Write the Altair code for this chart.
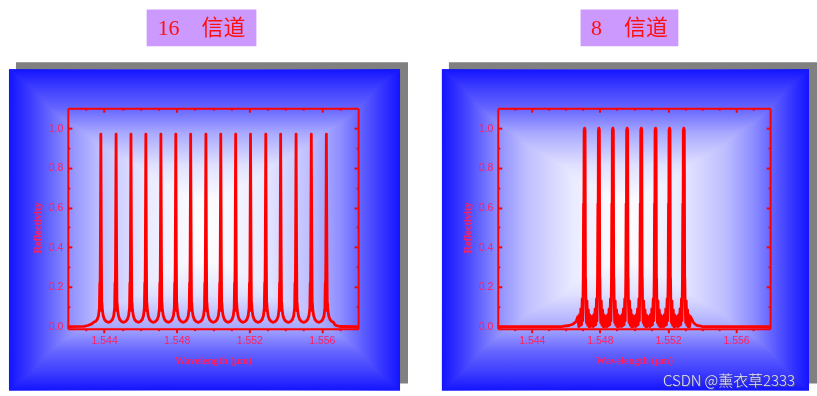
import altair as alt
import pandas as pd

# ---------------- data ----------------
X_DOMAIN = [1.542, 1.558]
Y_DOMAIN = [-0.01, 1.1]
X_MAJOR = [1.544, 1.548, 1.552, 1.556]
X_MINOR = [1.543, 1.545, 1.546, 1.547, 1.549, 1.550, 1.551, 1.553, 1.554, 1.555, 1.557]
Y_MAJOR = [0.0, 0.2, 0.4, 0.6, 0.8, 1.0]
Y_MINOR = [0.1, 0.3, 0.5, 0.7, 0.9]

PANEL_TITLES = ["16\u3000信道", "8\u3000信道"]
X_TITLE = "Wavelength (μm)"
Y_TITLE = "Reflectivity"
WATERMARK = "CSDN @薰衣草2333"

# 16-channel spectrum: peak centres (μm) and one peak profile (offset μm, reflectivity)
CENTERS_16 = [1.54382, 1.54466, 1.54548, 1.54630, 1.54713, 1.54795, 1.54877, 1.54961,
              1.55043, 1.55125, 1.55207, 1.55291, 1.55373, 1.55458, 1.55542, 1.55625]
PEAK_DX_16 = [-0.00040, -0.00030, -0.00020, -0.00013, -0.00008, -0.00006, -0.00005, -0.00003, 0.0,
              0.00003, 0.00005, 0.00006, 0.00008, 0.00013, 0.00020, 0.00030, 0.00040]
PEAK_R_16 = [0.022, 0.026, 0.036, 0.055, 0.095, 0.220, 0.100, 0.350, 0.970,
             0.350, 0.080, 0.120, 0.085, 0.055, 0.036, 0.026, 0.022]
TAIL_L_16_X = [1.5420, 1.5429, 1.5431, 1.5433]
TAIL_L_16_Y = [0.000, 0.002, 0.006, 0.013]
TAIL_R_16_X = [1.5567, 1.5568, 1.5570, 1.5580]
TAIL_R_16_Y = [0.012, 0.005, 0.001, 0.000]

# 8-channel spectrum
CENTERS_8 = [1.54710, 1.54794, 1.54876, 1.54960, 1.55043, 1.55127, 1.55209, 1.55293]
PEAK_DX_8 = [-0.00040, -0.00034, -0.00030, -0.00026, -0.00022, -0.00018, -0.00014, -0.00011,
             -0.00008, -0.00006, -0.00005, -0.00003, 0.0, 0.00003, 0.00005, 0.00006, 0.00008,
             0.00011, 0.00014, 0.00018, 0.00022, 0.00026, 0.00030, 0.00034, 0.00040]
PEAK_R_8 = [0.050, 0.000, 0.060, 0.005, 0.090, 0.010, 0.140, 0.030,
            0.250, 0.620, 0.300, 0.990, 1.000, 0.990, 0.250, 0.240, 0.100,
            0.020, 0.130, 0.008, 0.085, 0.000, 0.060, 0.000, 0.050]
TAIL_L_8_X = [1.5420, 1.5458, 1.5462, 1.5464, 1.5466]
TAIL_L_8_Y = [0.000, 0.001, 0.006, 0.012, 0.025]
TAIL_R_8_X = [1.5535, 1.5537, 1.5540, 1.5580]
TAIL_R_8_Y = [0.020, 0.006, 0.001, 0.000]


def build(centers, dx, r, lx, ly, rx, ry):
    xs, ys = list(lx), list(ly)
    for c in centers:
        for d, v in zip(dx, r):
            xs.append(round(c + d, 6))
            ys.append(v)
    xs += list(rx)
    ys += list(ry)
    return pd.DataFrame({"wl": xs, "R": ys})


DF16 = build(CENTERS_16, PEAK_DX_16, PEAK_R_16, TAIL_L_16_X, TAIL_L_16_Y, TAIL_R_16_X, TAIL_R_16_Y)
DF8 = build(CENTERS_8, PEAK_DX_8, PEAK_R_8, TAIL_L_8_X, TAIL_L_8_Y, TAIL_R_8_X, TAIL_R_8_Y)
DUMMY = pd.DataFrame({"a": [0]})

# ---------------- styling ----------------
RED = "#ff0000"
LBL = "#ff2060"
H = 221

H_GRAD = alt.LinearGradient(
    gradient="linear", x1=0, y1=0, x2=1, y2=0,
    stops=[alt.GradientStop(offset=0.0, color="#1414ff"),
           alt.GradientStop(offset=0.055, color="#3c3cff"),
           alt.GradientStop(offset=0.15, color="#8c8cff"),
           alt.GradientStop(offset=0.23, color="#bebeff"),
           alt.GradientStop(offset=0.36, color="#ebebff"),
           alt.GradientStop(offset=0.5, color="#ffffff"),
           alt.GradientStop(offset=0.64, color="#ebebff"),
           alt.GradientStop(offset=0.77, color="#bebeff"),
           alt.GradientStop(offset=0.85, color="#8c8cff"),
           alt.GradientStop(offset=0.945, color="#3c3cff"),
           alt.GradientStop(offset=1.0, color="#1414ff")])
V_GRAD = alt.LinearGradient(
    gradient="linear", x1=0, y1=0, x2=0, y2=1,
    stops=[alt.GradientStop(offset=0.0, color="#1414ff"),
           alt.GradientStop(offset=0.06, color="#4040ff"),
           alt.GradientStop(offset=0.12, color="#6464ff"),
           alt.GradientStop(offset=0.2, color="#aaaaff"),
           alt.GradientStop(offset=0.3, color="#e1e1ff"),
           alt.GradientStop(offset=0.4, color="#fafaff"),
           alt.GradientStop(offset=0.5, color="#ffffff"),
           alt.GradientStop(offset=0.6, color="#fafaff"),
           alt.GradientStop(offset=0.7, color="#e1e1ff"),
           alt.GradientStop(offset=0.8, color="#aaaaff"),
           alt.GradientStop(offset=0.88, color="#6464ff"),
           alt.GradientStop(offset=0.94, color="#4040ff"),
           alt.GradientStop(offset=1.0, color="#1414ff")])


def ax(orient, values, **kw):
    a = dict(orient=orient, values=values, zindex=1, grid=False, domainColor=RED,
             tickColor=RED, domainWidth=2, tickWidth=2, labels=False, domain=False, title="")
    a.update(kw)
    return alt.Axis(**a)


def rect(x0, x1, y0, y1, **mk):
    return alt.Chart(DUMMY).mark_rect(**mk).encode(
        x=alt.value(x0), x2=alt.value(x1), y=alt.value(y0), y2=alt.value(y1))


def panel(df, W, frame, box, title, watermark):
    fx0, fx1, fy0, fy1 = frame
    xs = alt.Scale(domain=X_DOMAIN, nice=False, zero=False)
    ys = alt.Scale(domain=Y_DOMAIN, nice=False, zero=False)
    layers = [
        rect(fx0 + 7, fx1 + 8, fy0 - 7, fy1 - 7, fill="#808080"),
        rect(fx0, fx1, fy0, fy1, fill=H_GRAD),
        rect(fx0, fx1, fy0, fy1, fill=V_GRAD, blend="darken"),
        rect(box[0], box[1], -99, -62, fill="#cc99ff"),
        alt.Chart(DUMMY).mark_text(text=title, font="Liberation Serif, Noto Sans CJK SC",
                                   fontSize=22, color="#ff1010", align="center",
                                   baseline="middle").encode(
            x=alt.value((box[0] + box[1]) / 2), y=alt.value(-80)),
        alt.Chart(df).mark_line(color=RED, strokeWidth=2.8, strokeJoin="round").encode(
            x=alt.X("wl:Q", scale=xs, axis=None), y=alt.Y("R:Q", scale=ys, axis=None)),
    ]
    inv = alt.Chart(df).mark_point(opacity=0, size=1)
    layers.append(inv.encode(
        x=alt.X("wl:Q", scale=xs, axis=ax(
            "bottom", X_MAJOR, labels=True, domain=True, tickSize=4, format=".3f",
            labelFont="Liberation Sans", labelFontSize=10.5, labelColor=LBL, labelPadding=3,
            labelFlush=False, title=X_TITLE, titleFont="Liberation Sans Narrow",
            titleFontWeight="bold", titleFontSize=10.5, titleColor=LBL, titlePadding=9)),
        y=alt.Y("R:Q", scale=ys, axis=ax(
            "left", Y_MAJOR, labels=True, domain=True, ticks=False, tickSize=0, format=".1f",
            labelFont="Liberation Sans", labelFontSize=10.5, labelColor=LBL, labelPadding=5,
            labelFlush=False, title=Y_TITLE, titleFont="Liberation Sans Narrow",
            titleFontWeight="bold", titleFontSize=10.5, titleColor=LBL, titleX=-30,
            titleY=H / 2 + 9, titleAngle=270, titleAlign="center", titleBaseline="middle"))))
    layers.append(inv.encode(
        x=alt.X("wl:Q", scale=xs, axis=ax("bottom", X_MINOR, tickSize=2)),
        y=alt.Y("R:Q", scale=ys, axis=ax("right", Y_MAJOR, tickSize=4, offset=-W))))
    layers.append(inv.encode(
        x=alt.X("wl:Q", scale=xs, axis=ax("bottom", X_MAJOR, tickSize=4, offset=-H, domain=True)),
        y=alt.Y("R:Q", scale=ys, axis=ax("right", Y_MINOR, tickSize=2, offset=-W))))
    layers.append(inv.encode(
        x=alt.X("wl:Q", scale=xs, axis=ax("bottom", X_MINOR, tickSize=2, offset=-H)),
        y=alt.Y("R:Q", scale=ys, axis=ax("left", Y_MAJOR, tickSize=4, offset=-W, domain=True))))
    layers.append(inv.encode(
        x=alt.X("wl:Q", scale=xs, axis=None),
        y=alt.Y("R:Q", scale=ys, axis=ax("left", Y_MINOR, tickSize=2, offset=-W))))
    if watermark:
        layers.append(alt.Chart(DUMMY).mark_text(
            text=WATERMARK, font="Noto Sans CJK SC", fontSize=15, fontWeight=300,
            color="#505080", align="right", baseline="alphabetic").encode(
            x=alt.value(299), y=alt.value(279)))
        layers.append(alt.Chart(DUMMY).mark_text(
            text=WATERMARK, font="Noto Sans CJK SC", fontSize=15, fontWeight=300,
            color="#e8e8f8", align="right", baseline="alphabetic").encode(
            x=alt.value(298), y=alt.value(278)))
    return alt.layer(*layers).resolve_axis(x="independent", y="independent").properties(
        width=W, height=H)


left = panel(DF16, 291, (-59, 333, -39, 283), (79, 189), PANEL_TITLES[0], False)
right = panel(DF8, 273, (-56, 312, -39, 283), (83, 181), PANEL_TITLES[1], True)

chart = alt.hconcat(left, right, spacing=140, bounds="flush").properties(
    padding={"left": 9, "top": 9, "right": 0, "bottom": 0},
    background="#ffffff",
).configure_view(strokeWidth=0)

chart.save("out.html", embed_options={"renderer": "svg", "actions": False})
